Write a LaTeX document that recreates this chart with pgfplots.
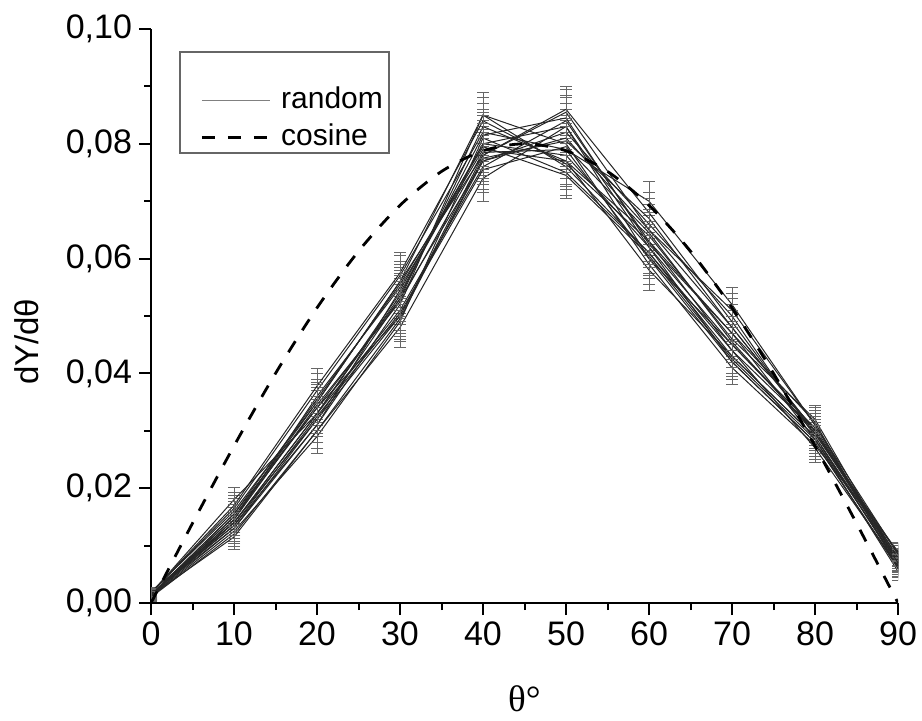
\documentclass[border=0pt]{standalone}
\usepackage{pgfplots}
\usepackage{pgfplotstable}
\pgfplotsset{compat=1.18}
\usepackage{fontspec}
\setmainfont{Liberation Sans}
\newfontfamily\seriffont{Liberation Serif}

\pgfplotstableread{
x   e       s1      s2      s3      s4      s5      s6      s7      s8      s9      s10     s11     s12     s13     s14     s15     s16     s17     s18     s19     s20
0   0.0007  0.0015  0.0012  0.0018  0.0010  0.0020  0.0014  0.0016  0.0013  0.0017  0.0011  0.0019  0.0015  0.0012  0.0016  0.0014  0.0013  0.0018  0.0011  0.0016  0.0014
10  0.0022  0.0150  0.0130  0.0165  0.0120  0.0140  0.0155  0.0135  0.0145  0.0180  0.0125  0.0160  0.0140  0.0150  0.0130  0.0145  0.0115  0.0170  0.0140  0.0135  0.0155
20  0.0030  0.0350  0.0320  0.0370  0.0300  0.0330  0.0340  0.0310  0.0360  0.0330  0.0290  0.0350  0.0320  0.0340  0.0310  0.0345  0.0300  0.0378  0.0330  0.0325  0.0355
30  0.0035  0.0560  0.0500  0.0570  0.0480  0.0540  0.0530  0.0520  0.0550  0.0510  0.0490  0.0560  0.0530  0.0500  0.0545  0.0525  0.0495  0.0575  0.0535  0.0505  0.0555
40  0.0040  0.0850  0.0780  0.0820  0.0740  0.0800  0.0770  0.0850  0.0790  0.0760  0.0810  0.0780  0.0830  0.0770  0.0800  0.0785  0.0775  0.0840  0.0815  0.0755  0.0795
50  0.0040  0.0760  0.0855  0.0790  0.0830  0.0780  0.0820  0.0800  0.0770  0.0840  0.0750  0.0860  0.0770  0.0810  0.0830  0.0790  0.0805  0.0765  0.0845  0.0795  0.0745
60  0.0035  0.0610  0.0650  0.0700  0.0600  0.0620  0.0660  0.0590  0.0640  0.0630  0.0610  0.0680  0.0580  0.0650  0.0620  0.0600  0.0670  0.0630  0.0625  0.0645  0.0605
70  0.0030  0.0430  0.0480  0.0520  0.0420  0.0450  0.0500  0.0410  0.0460  0.0470  0.0440  0.0490  0.0430  0.0510  0.0420  0.0450  0.0480  0.0440  0.0470  0.0455  0.0425
80  0.0025  0.0290  0.0300  0.0310  0.0280  0.0300  0.0290  0.0275  0.0320  0.0285  0.0300  0.0295  0.0290  0.0310  0.0280  0.0305  0.0300  0.0270  0.0315  0.0295  0.0285
90  0.0015  0.0075  0.0070  0.0085  0.0060  0.0080  0.0065  0.0090  0.0070  0.0055  0.0075  0.0080  0.0068  0.0072  0.0062  0.0078  0.0085  0.0065  0.0060  0.0088  0.0070
}\datatable

\pgfplotsset{
  randleg/.style={legend image code/.code={\draw[black!50, line width=0.6pt] (0pt,0pt) -- (34pt,0pt);}},
  cosleg/.style={legend image code/.code={\draw[black, line width=1.4pt, dash pattern=on 6.5pt off 6.5pt] (0pt,0pt) -- (34pt,0pt);}},
  rnd/.style={black!85, no marks, forget plot},
}

\begin{document}
\begin{tikzpicture}
\begin{axis}[
  at={(0,0)}, anchor=south west,
  scale only axis,
  width=373.5pt, height=287pt,
  xmin=0, xmax=90, ymin=0, ymax=0.1,
  axis x line*=bottom, axis y line*=left,
  axis line style={line width=1pt},
  xtick={0,10,...,90},
  ytick={0,0.02,0.04,0.06,0.08,0.10},
  minor x tick num=1, minor y tick num=1,
  tick align=outside,
  major tick length=6pt, minor tick length=3.5pt,
  every tick/.style={black, line width=1pt},
  scaled y ticks=false,
  yticklabel style={/pgf/number format/.cd, fixed, fixed zerofill, precision=2, use comma},
  /pgf/number format/assume math mode=true,
  tick label style={font=\fontsize{17}{20}\selectfont},
  xlabel={{\seriffont\fontsize{18.5}{20}\selectfont θ°}},
  ylabel={dY/dθ},
  label style={font=\fontsize{16.5}{19}\selectfont},
  xlabel style={at={(axis description cs:0.5,-0.166)}, anchor=center, inner sep=0pt},
  ylabel style={at={(axis description cs:-0.166,0.455)}, anchor=center, inner sep=0pt},
  every axis plot/.append style={line width=0.5pt},
  legend style={at={(axis description cs:0.0656,0.9024)}, anchor=north west,
    draw=none, fill=none, inner sep=0pt,
    font=\fontsize{15}{18}\selectfont,
    nodes={inner sep=0pt, text height=11.5pt, text depth=3.5pt},
    row sep=3.5pt,
    /tikz/every odd column/.append style={column sep=5pt}},
  legend cell align=left,
  error bars/y dir=both, error bars/y explicit,
  error bars/error bar style={black!60, line width=0.4pt},
  error bars/error mark options={black!60, mark size=3pt, line width=0.4pt, rotate=90},
]
\draw[black!60, line width=0.6pt] (rel axis cs:0.0388,0.784) rectangle (rel axis cs:0.3186,0.96);

\addplot[black!85, no marks, randleg] table[x=x, y=s1, y error=e] {\datatable};
\addlegendentry{random}
\addplot[rnd] table[x=x, y=s2, y error=e] {\datatable};
\addplot[rnd] table[x=x, y=s3, y error=e] {\datatable};
\addplot[rnd] table[x=x, y=s4, y error=e] {\datatable};
\addplot[rnd] table[x=x, y=s5, y error=e] {\datatable};
\addplot[rnd] table[x=x, y=s6, y error=e] {\datatable};
\addplot[rnd] table[x=x, y=s7, y error=e] {\datatable};
\addplot[rnd] table[x=x, y=s8, y error=e] {\datatable};
\addplot[rnd] table[x=x, y=s9, y error=e] {\datatable};
\addplot[rnd] table[x=x, y=s10, y error=e] {\datatable};
\addplot[rnd] table[x=x, y=s11, y error=e] {\datatable};
\addplot[rnd] table[x=x, y=s12, y error=e] {\datatable};
\addplot[rnd] table[x=x, y=s13, y error=e] {\datatable};
\addplot[rnd] table[x=x, y=s14, y error=e] {\datatable};
\addplot[rnd] table[x=x, y=s15, y error=e] {\datatable};
\addplot[rnd] table[x=x, y=s16, y error=e] {\datatable};
\addplot[rnd] table[x=x, y=s17, y error=e] {\datatable};
\addplot[rnd] table[x=x, y=s18, y error=e] {\datatable};
\addplot[rnd] table[x=x, y=s19, y error=e] {\datatable};
\addplot[rnd] table[x=x, y=s20, y error=e] {\datatable};

\addplot[black, smooth, no marks, line width=1.4pt, dash pattern=on 6.5pt off 6.5pt,
  error bars/y dir=none, cosleg] coordinates {
(0,0) (5,0.01389) (10,0.02736) (15,0.04) (20,0.05142) (25,0.06128) (30,0.06928)
(35,0.07518) (40,0.07878) (45,0.08) (50,0.07878) (55,0.07518) (60,0.06928)
(65,0.06128) (70,0.05142) (75,0.04) (80,0.02736) (85,0.01389) (90,0)};
\addlegendentry{cosine}
\end{axis}
\pgfresetboundingbox
\path[use as bounding box] ([shift={(-75.5pt,-58.5pt)}]current axis.south west) rectangle ([shift={(12pt,14.5pt)}]current axis.north east);
\end{tikzpicture}
\end{document}
